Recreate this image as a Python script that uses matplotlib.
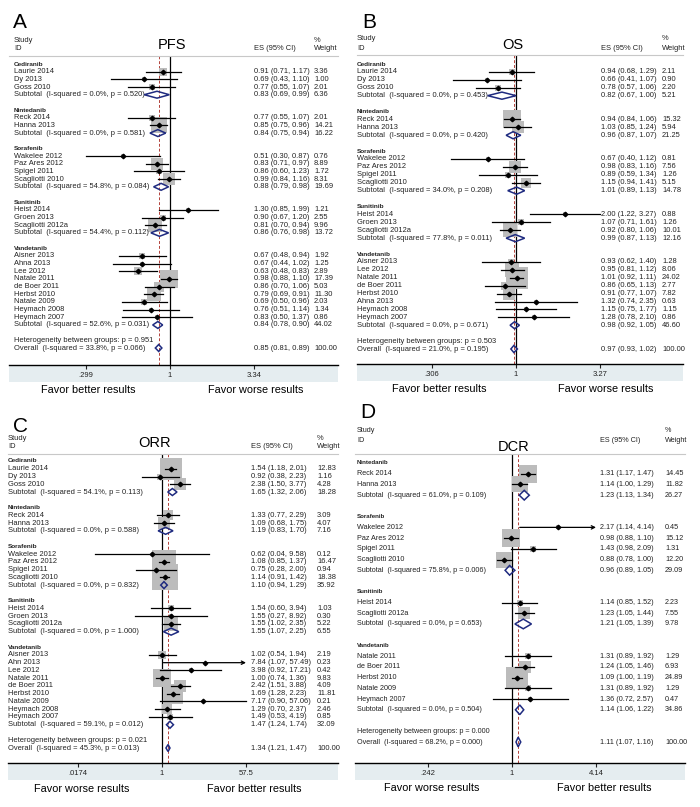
import numpy as np
import matplotlib.pyplot as plt
from matplotlib.patches import Polygon, Rectangle

plt.rcParams['font.family'] = ['Liberation Sans', 'DejaVu Sans']

W, H = 700, 807

# ---------------- A: PFS ----------------
pfs_drugs = ["Cediranib", "Nintedanib", "Sorafenib", "Sunitinib", "Vandetanib"]
pfs_study = ["Laurie 2014", "Dy 2013", "Goss 2010",
             "Reck 2014", "Hanna 2013",
             "Wakelee 2012", "Paz Ares 2012", "Spigel 2011", "Scagliotti 2010",
             "Heist 2014", "Groen 2013", "Scagliotti 2012a",
             "Aisner 2013", "Ahna 2013", "Lee 2012", "Natale 2011", "de Boer 2011",
             "Herbst 2010", "Natale 2009", "Heymach 2008", "Heymach 2007"]
pfs_drug = ["Cediranib"] * 3 + ["Nintedanib"] * 2 + ["Sorafenib"] * 4 + ["Sunitinib"] * 3 + ["Vandetanib"] * 9
pfs_es = [0.91, 0.69, 0.77, 0.77, 0.85, 0.51, 0.83, 0.86, 0.99, 1.30, 0.90, 0.81,
          0.67, 0.67, 0.63, 0.98, 0.86, 0.79, 0.69, 0.76, 0.83]
pfs_lo = [0.71, 0.43, 0.55, 0.55, 0.75, 0.30, 0.71, 0.60, 0.84, 0.85, 0.67, 0.70,
          0.48, 0.44, 0.48, 0.88, 0.70, 0.69, 0.50, 0.51, 0.50]
pfs_hi = [1.17, 1.10, 1.07, 1.07, 0.96, 0.87, 0.97, 1.23, 1.16, 1.99, 1.20, 0.94,
          0.94, 1.02, 0.83, 1.10, 1.06, 0.91, 0.96, 1.14, 1.37]
pfs_w = [3.36, 1.00, 2.01, 2.01, 14.21, 0.76, 8.89, 1.72, 8.31, 1.21, 2.55, 9.96,
         1.92, 1.25, 2.89, 17.39, 5.03, 11.30, 2.03, 1.34, 0.86]
pfs_sub_i2 = [0.0, 0.0, 54.8, 54.4, 52.6]
pfs_sub_p = [0.520, 0.581, 0.084, 0.112, 0.031]
pfs_sub_es = [0.83, 0.84, 0.88, 0.86, 0.84]
pfs_sub_lo = [0.69, 0.75, 0.79, 0.76, 0.78]
pfs_sub_hi = [0.99, 0.94, 0.98, 0.98, 0.90]
pfs_sub_w = [6.36, 16.22, 19.69, 13.72, 44.02]
pfs_overall = [0.85, 0.81, 0.89, 100.00]
pfs_overall_stats = [33.8, 0.066, 0.951]  # I-squared, p, heterogeneity p
pfs_ticks = [0.299, 1, 3.34]
pfs_ticklabels = [".299", "1", "3.34"]
pfs_favor = ["Favor better results", "Favor worse results"]

# ---------------- B: OS ----------------
os_drugs = ["Cediranib", "Nintedanib", "Sorafenib", "Sunitinib", "Vandetanib"]
os_study = ["Laurie 2014", "Dy 2013", "Goss 2010",
            "Reck 2014", "Hanna 2013",
            "Wakelee 2012", "Paz Ares 2012", "Spigel 2011", "Scagliotti 2010",
            "Heist 2014", "Groen 2013", "Scagliotti 2012a",
            "Aisner 2013", "Lee 2012", "Natale 2011", "de Boer 2011", "Herbst 2010",
            "Ahna 2013", "Heymach 2008", "Heymach 2007"]
os_drug = ["Cediranib"] * 3 + ["Nintedanib"] * 2 + ["Sorafenib"] * 4 + ["Sunitinib"] * 3 + ["Vandetanib"] * 8
os_es = [0.94, 0.66, 0.78, 0.94, 1.03, 0.67, 0.98, 0.89, 1.15, 2.00, 1.07, 0.92,
         0.93, 0.95, 1.01, 0.86, 0.91, 1.32, 1.15, 1.28]
os_lo = [0.68, 0.41, 0.57, 0.84, 0.85, 0.40, 0.83, 0.59, 0.94, 1.22, 0.71, 0.80,
         0.62, 0.81, 0.92, 0.65, 0.77, 0.74, 0.75, 0.78]
os_hi = [1.29, 1.07, 1.06, 1.06, 1.24, 1.12, 1.16, 1.34, 1.41, 3.27, 1.61, 1.06,
         1.40, 1.12, 1.11, 1.13, 1.07, 2.35, 1.77, 2.10]
os_w = [2.11, 0.90, 2.20, 15.32, 5.94, 0.81, 7.56, 1.26, 5.15, 0.88, 1.26, 10.01,
        1.28, 8.06, 24.02, 2.77, 7.82, 0.63, 1.15, 0.86]
os_sub_i2 = [0.0, 0.0, 34.0, 77.8, 0.0]
os_sub_p = [0.453, 0.420, 0.208, 0.011, 0.671]
os_sub_es = [0.82, 0.96, 1.01, 0.99, 0.98]
os_sub_lo = [0.67, 0.87, 0.89, 0.87, 0.92]
os_sub_hi = [1.00, 1.07, 1.13, 1.13, 1.05]
os_sub_w = [5.21, 21.25, 14.78, 12.16, 46.60]
os_overall = [0.97, 0.93, 1.02, 100.00]
os_overall_stats = [21.0, 0.195, 0.503]
os_ticks = [0.306, 1, 3.27]
os_ticklabels = [".306", "1", "3.27"]
os_favor = ["Favor better results", "Favor worse results"]

# ---------------- C: ORR ----------------
orr_drugs = ["Cediranib", "Nintedanib", "Sorafenib", "Sunitinib", "Vandetanib"]
orr_study = ["Laurie 2014", "Dy 2013", "Goss 2010",
             "Reck 2014", "Hanna 2013",
             "Wakelee 2012", "Paz Ares 2012", "Spigel 2011", "Scagliotti 2010",
             "Heist 2014", "Groen 2013", "Scagliotti 2012a",
             "Aisner 2013", "Ahn 2013", "Lee 2012", "Natale 2011", "de Boer 2011",
             "Herbst 2010", "Natale 2009", "Heymach 2008", "Heymach 2007"]
orr_drug = ["Cediranib"] * 3 + ["Nintedanib"] * 2 + ["Sorafenib"] * 4 + ["Sunitinib"] * 3 + ["Vandetanib"] * 9
orr_es = [1.54, 0.92, 2.38, 1.33, 1.09, 0.62, 1.08, 0.75, 1.14, 1.54, 1.55, 1.55,
          1.02, 7.84, 3.98, 1.00, 2.42, 1.69, 7.17, 1.29, 1.49]
orr_lo = [1.18, 0.38, 1.50, 0.77, 0.68, 0.04, 0.85, 0.28, 0.91, 0.60, 0.27, 1.02,
          0.54, 1.07, 0.92, 0.74, 1.51, 1.28, 0.90, 0.70, 0.53]
orr_hi = [2.01, 2.23, 3.77, 2.29, 1.75, 9.58, 1.37, 2.00, 1.42, 3.94, 8.92, 2.35,
          1.94, 57.49, 17.21, 1.36, 3.88, 2.23, 57.06, 2.37, 4.19]
orr_w = [12.83, 1.16, 4.28, 3.09, 4.07, 0.12, 16.47, 0.94, 18.38, 1.03, 0.30, 5.22,
         2.19, 0.23, 0.42, 9.83, 4.09, 11.81, 0.21, 2.46, 0.85]
orr_sub_i2 = [54.1, 0.0, 0.0, 0.0, 59.1]
orr_sub_p = [0.113, 0.588, 0.832, 1.000, 0.012]
orr_sub_es = [1.65, 1.19, 1.10, 1.55, 1.47]
orr_sub_lo = [1.32, 0.83, 0.94, 1.07, 1.24]
orr_sub_hi = [2.06, 1.70, 1.29, 2.25, 1.74]
orr_sub_w = [18.28, 7.16, 35.92, 6.55, 32.09]
orr_overall = [1.34, 1.21, 1.47, 100.00]
orr_overall_stats = [45.3, 0.013, 0.021]
orr_ticks = [0.0174, 1, 57.5]
orr_ticklabels = [".0174", "1", "57.5"]
orr_favor = ["Favor worse results", "Favor better results"]
orr_arrows = ["Ahn 2013"]

# ---------------- D: DCR ----------------
dcr_drugs = ["Nintedanib", "Sorafenib", "Sunitinib", "Vandetanib"]
dcr_study = ["Reck 2014", "Hanna 2013",
             "Wakelee 2012", "Paz Ares 2012", "Spigel 2011", "Scagliotti 2010",
             "Heist 2014", "Scagliotti 2012a",
             "Natale 2011", "de Boer 2011", "Herbst 2010", "Natale 2009", "Heymach 2007"]
dcr_drug = ["Nintedanib"] * 2 + ["Sorafenib"] * 4 + ["Sunitinib"] * 2 + ["Vandetanib"] * 5
dcr_es = [1.31, 1.14, 2.17, 0.98, 1.43, 0.88, 1.14, 1.23, 1.31, 1.24, 1.09, 1.31, 1.36]
dcr_lo = [1.17, 1.00, 1.14, 0.88, 0.98, 0.78, 0.85, 1.05, 0.89, 1.05, 1.00, 0.89, 0.72]
dcr_hi = [1.47, 1.29, 4.14, 1.10, 2.09, 1.00, 1.52, 1.44, 1.92, 1.46, 1.19, 1.92, 2.57]
dcr_w = [14.45, 11.82, 0.45, 15.12, 1.31, 12.20, 2.23, 7.55, 1.29, 6.93, 24.89, 1.29, 0.47]
dcr_sub_i2 = [61.0, 75.8, 0.0, 0.0]
dcr_sub_p = [0.109, 0.006, 0.653, 0.504]
dcr_sub_es = [1.23, 0.96, 1.21, 1.14]
dcr_sub_lo = [1.13, 0.89, 1.05, 1.06]
dcr_sub_hi = [1.34, 1.05, 1.39, 1.22]
dcr_sub_w = [26.27, 29.09, 9.78, 34.86]
dcr_overall = [1.11, 1.07, 1.16, 100.00]
dcr_overall_stats = [68.2, 0.000, 0.000]
dcr_ticks = [0.242, 1, 4.14]
dcr_ticklabels = [".242", "1", "4.14"]
dcr_favor = ["Favor worse results", "Favor better results"]
dcr_arrows = ["Wakelee 2012"]

# layout in pixels (figure coords, y from top)
layouts = {
    "A": dict(left=9, right=338, top=56, bottom=365, first=64, last=348, null=170,
              name=14, es=254, wcol=314, letter=(13, 23), title=(172, 45),
              head=(40, 49), favor=(390, 88, 256), box=4.2, fs=5.4),
    "B": dict(left=357, right=683, top=55, bottom=364, first=64, last=349, null=516,
              name=357, es=601, wcol=662, letter=(362, 23), title=(513, 45),
              head=(39, 48), favor=(389, 439, 606), box=4.6, fs=5.4),
    "C": dict(left=8, right=338, top=454, bottom=763, first=461, last=748, null=162,
              name=8, es=251, wcol=317, letter=(13, 426), title=(155, 443),
              head=(438, 446), favor=(789, 82, 254), box=5.9, fs=5.4),
    "D": dict(left=355, right=685, top=454, bottom=763, first=463, last=742, null=512,
              name=357, es=600, wcol=665, letter=(360, 413), title=(514, 447),
              head=(430, 440), favor=(788, 432, 604), box=4.6, fs=5.2),
}

fig = plt.figure(figsize=(W / 100, H / 100), dpi=100)


def forest(key, title, drugs, study, drug, es, lo, hi, w,
           sub_i2, sub_p, sub_es, sub_lo, sub_hi, sub_w,
           overall, overall_stats, ticks, ticklabels, favor, arrows=()):
    L = layouts[key]
    fs = L['fs']
    # build the row list
    rows = []
    for j, d in enumerate(drugs):
        rows.append(('group', d))
        for i in range(len(study)):
            if drug[i] == d:
                rows.append(('study', i))
        rows.append(('sub', j))
        rows.append(('blank', None))
    rows.append(('het', None))
    rows.append(('overall', None))
    n = len(rows)

    ax = fig.add_axes([L['left'] / W, 1 - L['bottom'] / H,
                       (L['right'] - L['left']) / W, (L['bottom'] - L['top']) / H])
    dy = (L['last'] - L['first']) / (n - 1)
    ax.set_ylim(n - 1 + (L['bottom'] - L['last']) / dy, -(L['first'] - L['top']) / dy)
    s = 84 / np.log(ticks[-1])
    ax.set_xlim((L['left'] - L['null']) / s, (L['right'] - L['null']) / s)

    def dx(px):
        return (px - L['null']) / s

    xmax = np.log(ticks[-1])
    txt = dict(fontsize=fs, va='center', color='#222222', clip_on=False)

    ax.axvline(0, color='black', lw=0.9, zorder=1)
    ax.axvline(np.log(overall[0]), color='#b2413a', lw=0.7, ls=(0, (3, 2)), zorder=1)

    for r, (kind, idx) in enumerate(rows):
        if kind == 'group':
            ax.text(dx(L['name']), r, idx, fontsize=fs - 0.8, fontweight='bold',
                    va='center', color='#222222')
        elif kind == 'study':
            i = idx
            ax.scatter(np.log(es[i]), r, s=(L['box'] * np.sqrt(w[i]) * 0.72) ** 2,
                       marker='s', color='#bcbcbc', linewidths=0, zorder=2)
            if study[i] in arrows:
                ax.annotate('', xy=(xmax, r), xytext=(np.log(lo[i]), r),
                            arrowprops=dict(arrowstyle='->', lw=0.9, color='black',
                                            shrinkA=0, shrinkB=0, mutation_scale=6),
                            zorder=3)
            else:
                ax.plot([np.log(lo[i]), np.log(hi[i])], [r, r], color='black', lw=0.9, zorder=3)
            ax.plot(np.log(es[i]), r, marker='D', ms=2.3, color='black', zorder=4)
            ax.text(dx(L['name']), r, study[i], **txt)
            ax.text(dx(L['es']), r, f"{es[i]:.2f} ({lo[i]:.2f}, {hi[i]:.2f})", **txt)
            ax.text(dx(L['wcol']), r, f"{w[i]:.2f}", **txt)
        elif kind == 'sub':
            j = idx
            poly = Polygon([(np.log(sub_lo[j]), r), (np.log(sub_es[j]), r - 0.45),
                            (np.log(sub_hi[j]), r), (np.log(sub_es[j]), r + 0.45)],
                           closed=True, fill=False, edgecolor='#1f2b80', lw=1.1, zorder=4)
            ax.add_patch(poly)
            ax.text(dx(L['name']), r,
                    f"Subtotal  (I-squared = {sub_i2[j]:.1f}%, p = {sub_p[j]:.3f})", **txt)
            ax.text(dx(L['es']), r, f"{sub_es[j]:.2f} ({sub_lo[j]:.2f}, {sub_hi[j]:.2f})", **txt)
            ax.text(dx(L['wcol']), r, f"{sub_w[j]:.2f}", **txt)
        elif kind == 'het':
            ax.text(dx(L['name']), r,
                    f"Heterogeneity between groups: p = {overall_stats[2]:.3f}", **txt)
        elif kind == 'overall':
            poly = Polygon([(np.log(overall[1]), r), (np.log(overall[0]), r - 0.45),
                            (np.log(overall[2]), r), (np.log(overall[0]), r + 0.45)],
                           closed=True, fill=False, edgecolor='#1f2b80', lw=1.1, zorder=4)
            ax.add_patch(poly)
            ax.text(dx(L['name']), r,
                    f"Overall  (I-squared = {overall_stats[0]:.1f}%, p = {overall_stats[1]:.3f})", **txt)
            ax.text(dx(L['es']), r, f"{overall[0]:.2f} ({overall[1]:.2f}, {overall[2]:.2f})", **txt)
            ax.text(dx(L['wcol']), r, f"{overall[3]:.2f}", **txt)

    for side in ['left', 'right']:
        ax.spines[side].set_visible(False)
    ax.spines['top'].set_color('#c8c8c8')
    ax.spines['top'].set_linewidth(0.8)
    ax.spines['bottom'].set_linewidth(1.0)
    ax.set_yticks([])
    ax.set_xticks(np.log(ticks))
    ax.set_xticklabels(ticklabels)
    ax.tick_params(axis='x', length=3, width=0.8, labelsize=5.5, pad=2, colors='#222222')
    band = 17 / (L['bottom'] - L['top'])
    ax.add_patch(Rectangle((0, -band), 1, band, transform=ax.transAxes,
                           facecolor='#e5edf0', edgecolor='none', clip_on=False, zorder=0))

    # header
    fig.text(L['letter'][0] / W, 1 - L['letter'][1] / H, key, fontsize=15,
             va='center', ha='left')
    fig.text(L['title'][0] / W, 1 - L['title'][1] / H, title, fontsize=10.5,
             va='center', ha='center')
    h1, h2 = L['head']
    fig.text(L['name'] / W, 1 - h1 / H, "Study", fontsize=fs, va='center', color='#222222')
    fig.text(L['name'] / W, 1 - h2 / H, "ID", fontsize=fs, va='center', color='#222222')
    fig.text(L['es'] / W, 1 - h2 / H, "ES (95% CI)", fontsize=fs, va='center', color='#222222')
    fig.text(L['wcol'] / W, 1 - h1 / H, "%", fontsize=fs, va='center', color='#222222')
    fig.text(L['wcol'] / W, 1 - h2 / H, "Weight", fontsize=fs, va='center', color='#222222')
    fy, fx1, fx2 = L['favor']
    fig.text(fx1 / W, 1 - fy / H, favor[0], fontsize=7.8, va='center', ha='center')
    fig.text(fx2 / W, 1 - fy / H, favor[1], fontsize=7.8, va='center', ha='center')


forest("A", "PFS", pfs_drugs, pfs_study, pfs_drug, pfs_es, pfs_lo, pfs_hi, pfs_w,
       pfs_sub_i2, pfs_sub_p, pfs_sub_es, pfs_sub_lo, pfs_sub_hi, pfs_sub_w,
       pfs_overall, pfs_overall_stats, pfs_ticks, pfs_ticklabels, pfs_favor)
forest("B", "OS", os_drugs, os_study, os_drug, os_es, os_lo, os_hi, os_w,
       os_sub_i2, os_sub_p, os_sub_es, os_sub_lo, os_sub_hi, os_sub_w,
       os_overall, os_overall_stats, os_ticks, os_ticklabels, os_favor)
forest("C", "ORR", orr_drugs, orr_study, orr_drug, orr_es, orr_lo, orr_hi, orr_w,
       orr_sub_i2, orr_sub_p, orr_sub_es, orr_sub_lo, orr_sub_hi, orr_sub_w,
       orr_overall, orr_overall_stats, orr_ticks, orr_ticklabels, orr_favor, orr_arrows)
forest("D", "DCR", dcr_drugs, dcr_study, dcr_drug, dcr_es, dcr_lo, dcr_hi, dcr_w,
       dcr_sub_i2, dcr_sub_p, dcr_sub_es, dcr_sub_lo, dcr_sub_hi, dcr_sub_w,
       dcr_overall, dcr_overall_stats, dcr_ticks, dcr_ticklabels, dcr_favor, dcr_arrows)

fig.savefig("out.png", dpi=100)
